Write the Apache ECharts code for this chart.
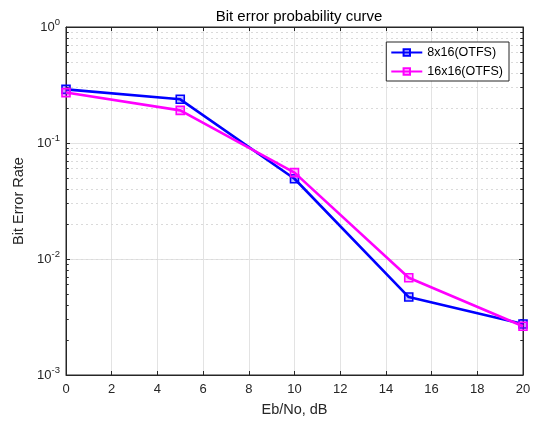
<!DOCTYPE html>
<html>
<head>
<meta charset="utf-8">
<script src="https://cdn.jsdelivr.net/npm/echarts@6/dist/echarts.min.js"></script>
<style>html,body{margin:0;padding:0;background:#fff;}#c{width:539px;height:423px;}</style>
</head>
<body>
<div id="c"></div>
<script>
const ebno = [0, 5, 10, 15, 20];
const ber8x16 = [0.290, 0.238, 0.0492, 0.0047, 0.00275];
const ber16x16 = [0.272, 0.191, 0.0555, 0.0069, 0.00263];
const seriesNames = ['8x16(OTFS)', '16x16(OTFS)'];
const xTicks = [0, 2, 4, 6, 8, 10, 12, 14, 16, 18, 20];
const decades = [-3, -2, -1, 0];

const minorVals = [];
for (let d = -3; d < 0; d++) for (let k = 2; k <= 9; k++) minorVals.push(k * Math.pow(10, d));

const axisCol = '#262626';
const font = 'Liberation Sans, Arial, sans-serif';
const supLabel = v => { const e = Math.round(Math.log10(v)); return '10{s|' + e + '}'; };

const gridLines = minorVals.map(v => ({ yAxis: v }));
const tickSegs = [];
minorVals.forEach(v => {
  tickSegs.push([{ coord: [0, v] }, { coord: [0.12, v] }]);
  tickSegs.push([{ coord: [19.88, v] }, { coord: [20, v] }]);
});

const chart = echarts.init(document.getElementById('c'));
chart.setOption({
  animation: false,
  backgroundColor: '#fff',
  textStyle: { fontFamily: font },
  title: {
    text: 'Bit error probability curve', left: 294, top: 4, textAlign: 'center',
    textStyle: { fontSize: 15, fontWeight: 'normal', color: '#000', fontFamily: font }
  },
  grid: { left: 66, right: 16, top: 27, bottom: 48, show: true, borderColor: axisCol, borderWidth: 1, backgroundColor: '#fff' },
  legend: {
    orient: 'vertical', right: 30, top: 42, data: seriesNames, z: 20,
    backgroundColor: '#fff', borderColor: axisCol, borderWidth: 1, padding: [4, 6, 3, 4],
    itemGap: 6, itemWidth: 31, itemHeight: 8,
    textStyle: { fontSize: 12.5, color: '#000', fontFamily: font }
  },
  xAxis: [{
    type: 'value', min: 0, max: 20, interval: 2,
    name: 'Eb/No, dB', nameLocation: 'middle', nameGap: 27,
    nameTextStyle: { fontSize: 14.5, color: axisCol, fontFamily: font },
    axisLine: { show: true, onZero: false, lineStyle: { color: axisCol } },
    axisTick: { show: true, inside: true, length: 4, lineStyle: { color: axisCol } },
    axisLabel: { color: axisCol, fontSize: 13, margin: 8, fontFamily: font },
    splitLine: { show: true, lineStyle: { color: '#e3e3e3', width: 1 } }
  }, {
    type: 'value', min: 0, max: 20, interval: 2, position: 'top',
    axisLine: { show: true, onZero: false, lineStyle: { color: axisCol } },
    axisTick: { show: true, inside: true, length: 4, lineStyle: { color: axisCol } },
    axisLabel: { show: false }, splitLine: { show: false }
  }],
  yAxis: [{
    type: 'log', min: 0.001, max: 1, logBase: 10,
    name: 'Bit Error Rate', nameLocation: 'middle', nameGap: 36,
    nameTextStyle: { fontSize: 14.5, color: axisCol, fontFamily: font },
    axisLine: { show: true, onZero: false, lineStyle: { color: axisCol } },
    axisTick: { show: true, inside: true, length: 4, lineStyle: { color: axisCol } },
    axisLabel: {
      color: axisCol, fontSize: 13, margin: 6, fontFamily: font,
      formatter: supLabel,
      rich: { s: { fontSize: 9.5, verticalAlign: 'top', padding: [0, 0, 9, 0], color: axisCol, fontFamily: font } }
    },
    splitLine: { show: true, lineStyle: { color: '#e3e3e3', width: 1 } }
  }, {
    type: 'log', min: 0.001, max: 1, logBase: 10, position: 'right',
    axisLine: { show: true, onZero: false, lineStyle: { color: axisCol } },
    axisTick: { show: true, inside: true, length: 4, lineStyle: { color: axisCol } },
    axisLabel: { show: false }, splitLine: { show: false }
  }],
  series: [{
    type: 'line', name: '_grid', data: [], silent: true, z: 0,
    markLine: {
      silent: true, symbol: 'none', label: { show: false }, z: 0,
      lineStyle: { color: '#dadada', type: [2, 3], width: 1 },
      data: gridLines
    }
  }, {
    type: 'line', name: '_ticks', data: [], silent: true, z: 1,
    markLine: {
      silent: true, symbol: 'none', label: { show: false }, z: 1,
      lineStyle: { color: axisCol, type: 'solid', width: 1 },
      data: tickSegs
    }
  }, {
    type: 'line', name: seriesNames[0],
    data: ebno.map((x, i) => [x, ber8x16[i]]),
    symbol: 'rect', symbolSize: 8,
    lineStyle: { color: '#0000ff', width: 2.6 },
    itemStyle: { color: 'rgba(0,0,255,0.25)', borderColor: '#0000ff', borderWidth: 1.6 },
    z: 3
  }, {
    type: 'line', name: seriesNames[1],
    data: ebno.map((x, i) => [x, ber16x16[i]]),
    symbol: 'rect', symbolSize: 8,
    lineStyle: { color: '#ff00ff', width: 2.6 },
    itemStyle: { color: 'rgba(255,0,255,0.25)', borderColor: '#ff00ff', borderWidth: 1.6 },
    z: 4
  }]
});
</script>
</body>
</html>
